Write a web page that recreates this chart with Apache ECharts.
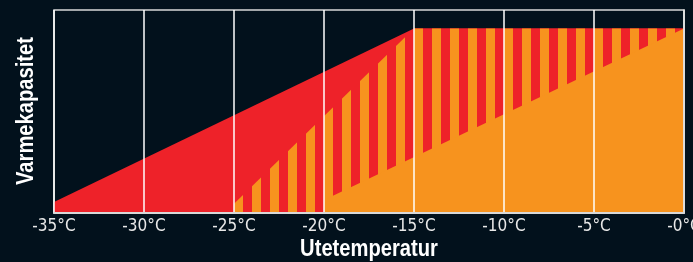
<!DOCTYPE html>
<html>
<head>
    <meta charset="utf-8">
    <title>Varmekapasitet</title>
    <script src="https://cdn.jsdelivr.net/npm/echarts@6/dist/echarts.min.js"></script>
    <style>
        html, body {
            margin: 0;
            padding: 0;
            background-color: #02111c;
        }

        #chart {
            width: 693px;
            height: 262px;
        }
    </style>
</head>
<body>
<div id="chart"></div>
<script>
    // x-akse: utetemperatur
    var tickValues = [-35, -30, -25, -20, -15, -10, -5, 0];
    var tickLabels = ['-35°C', '-30°C', '-25°C', '-20°C', '-15°C', '-10°C', '-5°C', '-0°C'];

    // [temperatur, varmekapasitet]
    var redLine = [[-35, 6], [-15, 100], [0, 100]];
    var stripeLine = [[-25, 5], [-15, 100], [0, 100]];
    var orangeLine = [[-20, 7], [0, 100]];

    var xName = 'Utetemperatur';
    var yName = 'Varmekapasitet';

    var RED = '#ee2229';
    var ORANGE = '#f7931e';
    var LABEL_FONT = "'DejaVu Sans Condensed', 'Liberation Sans Narrow', sans-serif";
    var NAME_FONT = "'Liberation Sans', Arial, sans-serif";

    var chart = echarts.init(document.getElementById('chart'), null, {renderer: 'canvas'});

    function areaSeries(name, data, color, decal) {
        var s = {
            name: name,
            type: 'line',
            data: data,
            symbol: 'none',
            showSymbol: false,
            silent: true,
            lineStyle: {width: 0, color: color},
            itemStyle: {color: color},
            areaStyle: {color: color, opacity: 1}
        };
        if (decal) {
            s.itemStyle.decal = decal;
        }
        return s;
    }

    // akse-titler: smal fet skrift (skalert, siden ingen condensed-font finnes)
    function nameText(text, x, y, rot) {
        return {
            type: 'text',
            x: x,
            y: y,
            rotation: rot,
            scaleX: 0.84,
            silent: true,
            style: {
                text: text,
                fill: '#ffffff',
                fontFamily: NAME_FONT,
                fontWeight: 'bold',
                fontSize: 24,
                align: 'center',
                verticalAlign: 'middle'
            }
        };
    }

    var option = {
        backgroundColor: '#02111c',
        animation: false,
        grid: {
            left: 54,
            right: 9,
            top: 10,
            bottom: 49,
            outerBoundsMode: 'none',
            containLabel: false,
            show: true,
            borderColor: '#d8d8d8',
            borderWidth: 1.5
        },
        graphic: [
            nameText(xName, 369, 249, 0),
            nameText(yName, 26, 111, Math.PI / 2)
        ],
        xAxis: {
            type: 'value',
            min: -35,
            max: 0,
            interval: 5,
            z: 10,
            axisLine: {show: true, lineStyle: {color: '#d8d8d8', width: 2}},
            axisTick: {show: false},
            axisLabel: {
                color: '#e8e8e8',
                fontFamily: LABEL_FONT,
                fontSize: 17,
                margin: 5,
                formatter: function (v) {
                    var i = tickValues.indexOf(v);
                    return i >= 0 ? tickLabels[i] : '';
                }
            },
            splitLine: {show: true, lineStyle: {color: '#ffffff', width: 1.5}}
        },
        yAxis: {
            type: 'value',
            min: 0,
            max: 110,
            z: 10,
            axisLine: {show: true, lineStyle: {color: '#d8d8d8', width: 1.5}},
            axisTick: {show: false},
            axisLabel: {show: false},
            splitLine: {show: false}
        },
        series: [
            areaSeries('rod', redLine, RED),
            areaSeries('striper', stripeLine, RED, {
                symbol: 'rect',
                symbolSize: 1,
                symbolKeepAspect: false,
                color: ORANGE,
                dashArrayX: [9, 9],
                dashArrayY: [4, 0],
                rotation: 0
            }),
            areaSeries('oransje', orangeLine, ORANGE)
        ]
    };

    chart.setOption(option);

    window.onresize = function () {
        chart.resize();
    };
</script>
</body>
</html>
